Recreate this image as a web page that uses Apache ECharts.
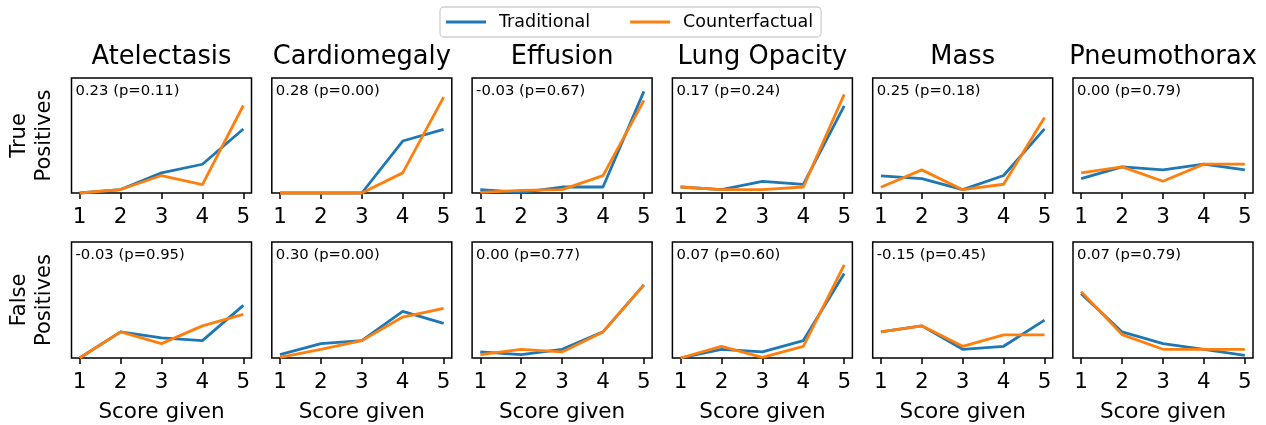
<!DOCTYPE html>
<html>
<head>
<meta charset="utf-8">
<script src="https://cdn.jsdelivr.net/npm/echarts@6/dist/echarts.min.js"></script>
<style>
html,body{margin:0;padding:0;background:#fff;}
#chart{width:1266px;height:425px;}
</style>
</head>
<body>
<div id="chart"></div>
<script>
const categories = ['Atelectasis', 'Cardiomegaly', 'Effusion', 'Lung Opacity', 'Mass', 'Pneumothorax'];
const scores = [1, 2, 3, 4, 5];
const rowLabels = ['True\nPositives', 'False\nPositives'];
const seriesNames = ['Traditional', 'Counterfactual'];

const tpTraditional = [
  [0.00, 0.03, 0.175, 0.25, 0.557],
  [0.00, 0.00, 0.00, 0.452, 0.554],
  [0.029, 0.006, 0.052, 0.052, 0.884],
  [0.052, 0.029, 0.101, 0.075, 0.757],
  [0.149, 0.125, 0.029, 0.152, 0.557],
  [0.125, 0.227, 0.201, 0.251, 0.201]
];
const tpCounterfactual = [
  [0.00, 0.03, 0.152, 0.073, 0.761],
  [0.00, 0.00, 0.00, 0.175, 0.834],
  [0.006, 0.023, 0.029, 0.151, 0.806],
  [0.052, 0.029, 0.029, 0.052, 0.858],
  [0.05, 0.201, 0.029, 0.076, 0.656],
  [0.175, 0.227, 0.102, 0.251, 0.251]
];
const fpTraditional = [
  [0.00, 0.225, 0.173, 0.150, 0.454],
  [0.029, 0.124, 0.150, 0.402, 0.298],
  [0.052, 0.029, 0.075, 0.225, 0.630],
  [0.00, 0.075, 0.052, 0.150, 0.728],
  [0.225, 0.277, 0.075, 0.101, 0.327],
  [0.555, 0.225, 0.124, 0.075, 0.023]
];
const fpCounterfactual = [
  [0.00, 0.225, 0.124, 0.277, 0.376],
  [0.006, 0.075, 0.150, 0.353, 0.428],
  [0.029, 0.075, 0.052, 0.225, 0.630],
  [0.00, 0.101, 0.006, 0.101, 0.803],
  [0.225, 0.277, 0.101, 0.199, 0.199],
  [0.572, 0.202, 0.075, 0.075, 0.075]
];
const tpStats = ['0.23 (p=0.11)', '0.28 (p=0.00)', '-0.03 (p=0.67)', '0.17 (p=0.24)', '0.25 (p=0.18)', '0.00 (p=0.79)'];
const fpStats = ['-0.03 (p=0.95)', '0.30 (p=0.00)', '0.00 (p=0.77)', '0.07 (p=0.60)', '-0.15 (p=0.45)', '0.07 (p=0.79)'];
const xLabel = 'Score given';

const FONT = 'DejaVu Sans';
const colors = ['#1f77b4', '#ff7f0e'];
const gridLeft0 = 71.5, gridPitch = 200.3, gridW = 180;
const rowTop = [78, 242], rowH = [115, 116];

const rows = [
  { trad: tpTraditional, cf: tpCounterfactual, stats: tpStats },
  { trad: fpTraditional, cf: fpCounterfactual, stats: fpStats }
];

const grids = [], xAxes = [], yAxes = [], series = [], graphics = [];
rows.forEach((row, r) => {
  categories.forEach((cat, c) => {
    const idx = r * categories.length + c;
    const left = gridLeft0 + gridPitch * c;
    grids.push({
      left: left, top: rowTop[r], width: gridW, height: rowH[r],
      show: true, borderColor: '#000', borderWidth: 1.5, backgroundColor: 'transparent'
    });
    xAxes.push({
      type: 'value', gridIndex: idx, min: 0.8, max: 5.2,
      splitLine: { show: false },
      axisLine: { show: false },
      axisTick: { show: true, inside: false, length: 6, customValues: scores, lineStyle: { color: '#000', width: 1.5 } },
      axisLabel: { show: true, customValues: scores, fontSize: 21.5, fontFamily: FONT, color: '#000', margin: 13 }
    });
    yAxes.push({
      type: 'value', gridIndex: idx, min: 0, max: 1,
      splitLine: { show: false }, axisLine: { show: false },
      axisTick: { show: false }, axisLabel: { show: false }
    });
    [row.trad[c], row.cf[c]].forEach((vals, s) => {
      series.push({
        name: seriesNames[s], type: 'line', xAxisIndex: idx, yAxisIndex: idx,
        data: scores.map((x, j) => [x, vals[j]]),
        symbol: 'none', clip: false,
        lineStyle: { color: colors[s], width: 2.8 },
        itemStyle: { color: colors[s] },
        z: 3 + s
      });
    });
    graphics.push({
      type: 'text', left: left + 4, top: rowTop[r] + 6,
      style: { text: row.stats[c], font: '14.8px "' + FONT + '"', fill: '#000' }
    });
    if (r === 0) {
      graphics.push({
        type: 'text', x: left + gridW / 2, y: 57,
        style: { text: cat, font: '25.7px "' + FONT + '"', fill: '#000', textAlign: 'center', textVerticalAlign: 'middle' }
      });
    } else {
      graphics.push({
        type: 'text', x: left + gridW / 2, y: 412,
        style: { text: xLabel, font: '21.5px "' + FONT + '"', fill: '#000', textAlign: 'center', textVerticalAlign: 'middle' }
      });
    }
  });
  graphics.push({
    type: 'text', x: 32, y: rowTop[r] + rowH[r] / 2, rotation: Math.PI / 2,
    style: { text: rowLabels[r], font: '21px "' + FONT + '"', fill: '#000', textAlign: 'center', textVerticalAlign: 'middle', lineHeight: 25 }
  });
});

const chart = echarts.init(document.getElementById('chart'), null, { renderer: 'canvas' });
chart.setOption({
  animation: false,
  backgroundColor: '#fff',
  legend: {
    data: seriesNames, left: 440, top: 7,
    icon: 'rect', itemWidth: 40, itemHeight: 3, itemGap: 40,
    padding: [6, 8, 6, 6],
    borderColor: '#d0d0d0', borderWidth: 1.3, borderRadius: 4,
    textStyle: { fontFamily: FONT, fontSize: 17.5, color: '#000', padding: [0, 0, 0, 8] }
  },
  grid: grids, xAxis: xAxes, yAxis: yAxes, series: series, graphic: graphics
});
</script>
</body>
</html>
